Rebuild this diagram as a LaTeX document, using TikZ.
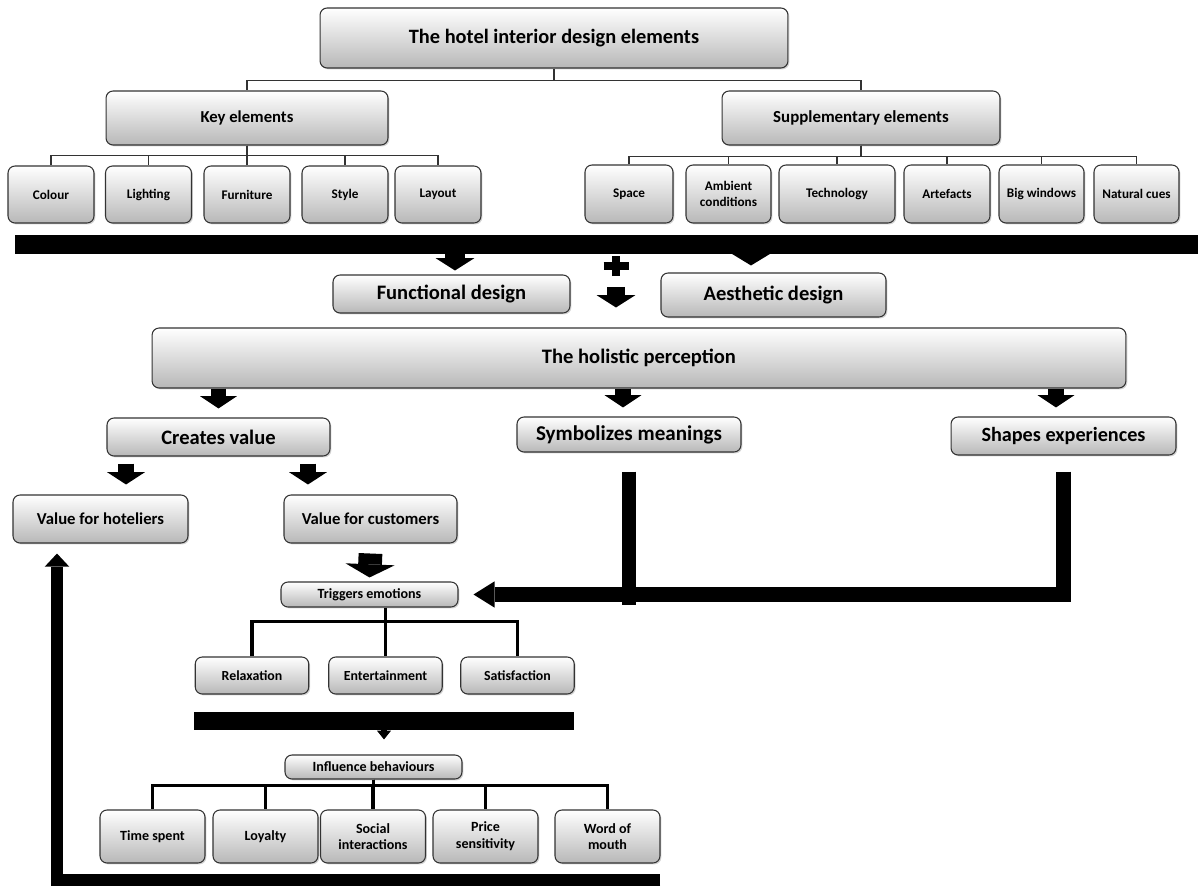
\documentclass[tikz,border=0pt]{standalone}
\usepackage{fontspec}
\setmainfont{Carlito}
\usetikzlibrary{arrows.meta,shadows,calc}

\newcommand{\setfs}[2]{\fontsize{#1}{#2}\selectfont\bfseries}

\tikzset{
	elem/.style={draw=black!80, line width=0.6pt, rounded corners=4pt,
		top color=white, bottom color=black!28,
		drop shadow={shadow xshift=0.8pt, shadow yshift=-0.8pt, opacity=0.35},
		align=center, inner sep=1pt},
	thinlink/.style={draw=black!80, line width=0.8pt},
	treelink/.style={draw=black, line width=2pt},
	blackbar/.style={fill=black, inner sep=0pt},
	fat/.style n args={3}{draw=black, line width=#1, -{Triangle[width=#2, length=#3, line width=0pt]}},
	heavyline/.style={draw=black, line width=#1, line join=miter},
}

\begin{document}
\begin{tikzpicture}[x=0.02cm, y=-0.02cm]

		\useasboundingbox (0,0) rectangle (1198,886);

		% draw the top of the tree
		\node[elem, minimum width=9.36cm, minimum height=1.2cm, font=\setfs{11.6}{13}] (top) at (554,38) {The hotel interior design elements};
		\node[elem, minimum width=5.64cm, minimum height=1.08cm, font=\setfs{9.5}{11}] (key) at (247,118) {Key elements};
		\node[elem, minimum width=5.56cm, minimum height=1.08cm, font=\setfs{9.6}{11}] (supp) at (861,118) {Supplementary elements};
		\draw[thinlink] (top.south) -- ++(0,12) coordinate (split) -| (key.north);
		\draw[thinlink] (split) -| (supp.north);

		% draw key elements
		\foreach \nm/\cx/\lbl in {col/51/Colour, lig/148.5/Lighting, fur/247/Furniture, sty/345/Style, lay/438/Layout}
		{
			\node[elem, minimum width=1.72cm, minimum height=1.14cm, font=\setfs{7.5}{9}] (\nm) at (\cx,194.5) {\lbl};
			\draw[thinlink] (key.south) -- ++(0,10) -| (\nm.north);
		}

		% draw supplementary elements
		\foreach \nm/\cx/\bw/\lbl in {spa/629/1.76/Space, amb/728.5/1.70/{Ambient\\conditions}, tec/837/2.32/Technology, art/947/1.72/Artefacts, big/1041.5/1.70/Big windows, nat/1136.5/1.70/Natural cues}
		{
			\node[elem, minimum width=\bw cm, minimum height=1.16cm, font=\setfs{7.5}{9}] (\nm) at (\cx,194) {\lbl};
			\draw[thinlink] (supp.south) -- ++(0,11) -| (\nm.north);
		}

		% draw the bar and the two designs
		\node[blackbar, minimum width=23.66cm, minimum height=0.38cm] (bar) at (606.5,244.5) {};
		\node[elem, minimum width=4.74cm, minimum height=0.76cm, font=\setfs{11.7}{13}] (fun) at (451.5,294) {Functional design};
		\node[elem, minimum width=4.5cm, minimum height=0.88cm, font=\setfs{11.7}{13}] (aes) at (773.5,295) {Aesthetic design};
		\draw[fat={11pt}{22pt}{7pt}] ([xshift=0.07cm]bar.south -| fun.north) -- ([xshift=0.07cm,yshift=0.08cm]fun.north);
		\draw[fat={6pt}{23pt}{7pt}] ([xshift=-0.45cm]bar.south -| aes.north) -- ([xshift=-0.45cm,yshift=0.14cm]aes.north);

		% plus sign
		\coordinate (plus) at (616,266);
		\draw[line width=5pt] ([xshift=-0.25cm]plus) -- ([xshift=0.25cm]plus);
		\draw[line width=5pt] ([yshift=-0.2cm]plus) -- ([yshift=0.2cm]plus);

		% draw the holistic perception
		\node[elem, minimum width=19.48cm, minimum height=1.2cm, font=\setfs{11.7}{13}] (hol) at (639,358) {The holistic perception};
		\draw[fat={10pt}{22pt}{7pt}] ([yshift=-0.42cm]plus) -- ([yshift=0.4cm]plus |- hol.north);

		\node[elem, minimum width=4.46cm, minimum height=0.76cm, font=\setfs{11.7}{13}] (cre) at (218.5,437) {Creates value};
		\node[elem, minimum width=4.48cm, minimum height=0.7cm, font=\setfs{12}{13}] (sym) at (629,434.5) {Symbolizes meanings};
		\node[elem, minimum width=4.5cm, minimum height=0.76cm, font=\setfs{11.5}{13}] (shp) at (1063.5,436) {Shapes experiences};
		\foreach \nm/\dx in {cre/0, sym/-0.12, shp/-0.15}
		{
			\draw[fat={9pt}{21pt}{7pt}] ([xshift=\dx cm]hol.south -| \nm.north) -- ([xshift=\dx cm,yshift=0.18cm]\nm.north);
		}

		% draw the values
		\node[elem, minimum width=3.5cm, minimum height=0.96cm, font=\setfs{9.5}{11}] (hot) at (100.5,519) {Value for hoteliers};
		\node[elem, minimum width=3.46cm, minimum height=0.96cm, font=\setfs{9.5}{11}] (cus) at (370.5,519) {Value for customers};
		\draw[fat={9.5pt}{21.5pt}{7pt}] ([xshift=-1.85cm,yshift=-0.14cm]cre.south) -- ([xshift=-1.85cm,yshift=0.2cm]cre.south |- hot.north);
		\draw[fat={9.5pt}{21.5pt}{7pt}] ([xshift=1.79cm,yshift=-0.14cm]cre.south) -- ([xshift=1.79cm,yshift=0.2cm]cre.south |- cus.north);

		% draw emotions
		\node[elem, minimum width=3.54cm, minimum height=0.5cm, font=\setfs{8}{9}] (trg) at (369.5,594.5) {Triggers emotions};
		\draw[fat={13.5pt}{28pt}{7.5pt}] ([yshift=-0.2cm]cus.south) -- ([yshift=0.08cm]trg.north);

		\draw[heavyline=8pt, -{Triangle[width=15pt, length=12pt, line width=0pt]}, shorten >=0.3cm] ([yshift=-0.32cm]shp.south) |- (trg.east);
		\draw[heavyline=8pt] ([yshift=-0.38cm]sym.south) -- ([yshift=-0.2cm]sym.south |- trg.east);

		\foreach \nm/\cx/\lbl in {rel/252/Relaxation, ent/385.5/Entertainment, sat/517.5/Satisfaction}
		{
			\node[elem, minimum width=2.27cm, minimum height=0.74cm, font=\setfs{7.9}{9}] (\nm) at (\cx,675.5) {\lbl};
		}
		\draw[treelink] (trg.south -| ent.north) -- (ent.north);
		\draw[treelink] (rel.north) -- ++(0,-35) -| (sat.north);

		% draw behaviours
		\node[blackbar, minimum width=7.6cm, minimum height=0.36cm] (bar2) at (384,721) {};
		\node[elem, minimum width=3.54cm, minimum height=0.48cm, font=\setfs{8}{9}] (inf) at (373.5,767) {Influence behaviours};
		\draw[fat={3pt}{8pt}{5pt}] (bar2.south) -- ([yshift=0.3cm]inf.north -| bar2.south);

		\foreach \nm/\cx/\lbl in {tsp/152.5/Time spent, loy/265.5/Loyalty, soc/373/{Social\\interactions}, pri/485.5/{Price\\sensitivity}, wom/607.5/{Word of\\mouth}}
		{
			\node[elem, minimum width=2.1cm, minimum height=1.06cm, font=\setfs{8}{9.5}] (\nm) at (\cx,836.5) {\lbl};
			\draw[treelink] (inf.south) -- ++(0,6) -| (\nm.north);
		}

		% draw the way back to the hoteliers
		\coordinate (lend) at (660,880);
		\coordinate (lcorner) at (57,880);
		\draw[heavyline=6.8pt, -{Triangle[width=14pt, length=7.5pt, line width=0pt]}] (lend) -- (lcorner) -- ([yshift=-0.2cm]lcorner |- hot.south);

\end{tikzpicture}
\end{document}
